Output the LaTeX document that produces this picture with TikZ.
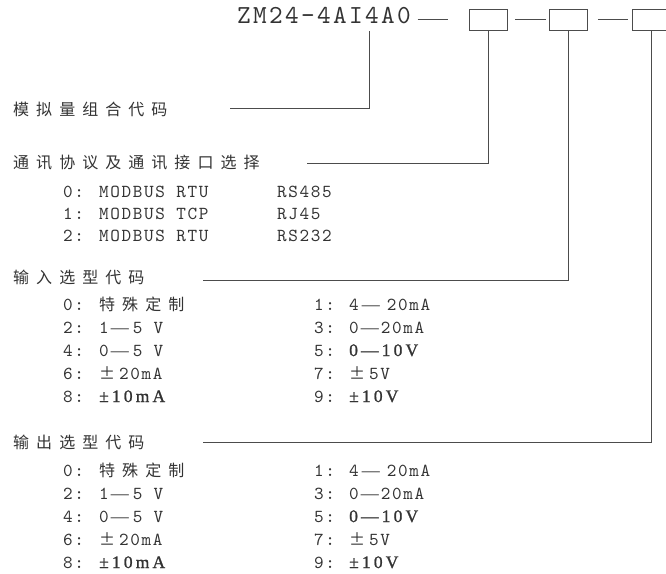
\documentclass[tikz,border=0pt]{standalone}
\usepackage{fontspec}
\setmainfont{lmmono10-regular.otf}[LetterSpace=9]
\newfontfamily\cjkfont{Noto Sans CJK SC}[LetterSpace=44]
\newfontfamily\serifb{Liberation Serif}[FakeBold=1.2,LetterSpace=18]
\newfontfamily\serifr{Liberation Serif}
\newcommand{\cn}[1]{{\cjkfont\fontsize{16}{18}\selectfont #1}}
\newcommand{\bd}[1]{{\serifb\fontsize{17.5}{18}\selectfont #1}}
\newcommand{\dash}{{\serifr\fontsize{18}{18}\selectfont —}}
\usepackage{tikz}
\usetikzlibrary{positioning}

\begin{document}
\begin{tikzpicture}[
    x=1pt, y=-1pt,
    line/.style={draw=black!70, line width=0.8pt},
    codebox/.style={draw=black!70, line width=0.8pt, minimum width=38pt,
                    minimum height=21pt, inner sep=0pt},
    head/.style={anchor=base west, inner sep=0pt, text=black!80,
                 font=\cjkfont\fontsize{16}{18}\selectfont},
    item/.style={anchor=base west, inner sep=0pt, text=black!80,
                 font=\fontsize{18.3}{20}\selectfont}
]
\useasboundingbox (0,0) rectangle (666,573);
% model code and the three option boxes
\node[anchor=base west, inner sep=0pt, text=black!80,
      font=\fontsize{26}{28}\selectfont] (title) at (237,23.3) {ZM24-4AI4A0};
\node[codebox] (b1) at (488,19.5) {};
\node[codebox] (b2) at (568.5,19.5) {};
\node[codebox] (b3) at (651,19.5) {};
\draw[line] ([xshift=-51pt]b1.west) -- ([xshift=-21pt]b1.west);
\draw[line] ([xshift=8pt]b1.east) -- ([xshift=-3pt]b2.west);
\draw[line] ([xshift=10pt]b2.east) -- ([xshift=-4pt]b3.west);
% headings
\node[head] (h1) at (13,115)   {模拟量组合代码};
\node[head] (h2) at (13,168.5) {通讯协议及通讯接口选择};
\node[head] (h3) at (13,283.5) {输入选型代码};
\node[head] (h4) at (13,448.5) {输出选型代码};
% leader lines
\coordinate (tap) at (369,31);
\coordinate (e1)  at (230,108);
\coordinate (e2)  at (307,163);
\coordinate (e3)  at (203,280);
\coordinate (e4)  at (203,442.5);
\draw[line] (tap) |- (e1);
\draw[line] (b1.south) |- (e2);
\draw[line] (b2.south) |- (e3);
\draw[line] (b3.south) |- (e4);
% protocol / interface
\node[item] (p0) at (63,197) {\makebox[36pt][l]{0:}MODBUS RTU};
\node[item] (p1) at (63,219) {\makebox[36pt][l]{1:}MODBUS TCP};
\node[item] (p2) at (63,241) {\makebox[36pt][l]{2:}MODBUS RTU};
\node[item] (i0) at (277,197) {RS485};
\node[item] (i1) at (277,219) {RJ45};
\node[item] (i2) at (277,241) {RS232};
% input types
\node[item] (a0) at (63,310)  {\makebox[36pt][l]{0:}\cn{特殊定制}};
\node[item] (a2) at (63,333)  {\makebox[36pt][l]{2:}1\kern2pt\dash\kern4pt5 V};
\node[item] (a4) at (63,356)  {\makebox[36pt][l]{4:}0\kern2pt\dash\kern4pt5 V};
\node[item] (a6) at (63,379)  {\makebox[36pt][l]{6:}\cn{±}\kern4pt20mA};
\node[item] (a8) at (63,402)  {\makebox[36pt][l]{8:}\bd{±10mA}};
\node[item] (a1) at (314,310) {\makebox[35pt][l]{1:}4\kern3pt\dash\kern7pt20mA};
\node[item] (a3) at (314,333) {\makebox[35pt][l]{3:}0\kern2pt\dash\kern2pt20mA};
\node[item] (a5) at (314,356) {\makebox[35pt][l]{5:}\bd{0—10V}};
\node[item] (a7) at (314,379) {\makebox[35pt][l]{7:}\cn{±}\kern4pt5V};
\node[item] (a9) at (314,402) {\makebox[35pt][l]{9:}\bd{±10V}};
% output types
\node[item] (o0) at (63,476)  {\makebox[36pt][l]{0:}\cn{特殊定制}};
\node[item] (o2) at (63,499)  {\makebox[36pt][l]{2:}1\kern2pt\dash\kern4pt5 V};
\node[item] (o4) at (63,522)  {\makebox[36pt][l]{4:}0\kern2pt\dash\kern4pt5 V};
\node[item] (o6) at (63,545)  {\makebox[36pt][l]{6:}\cn{±}\kern4pt20mA};
\node[item] (o8) at (63,568)  {\makebox[36pt][l]{8:}\bd{±10mA}};
\node[item] (o1) at (314,476) {\makebox[35pt][l]{1:}4\kern3pt\dash\kern7pt20mA};
\node[item] (o3) at (314,499) {\makebox[35pt][l]{3:}0\kern2pt\dash\kern2pt20mA};
\node[item] (o5) at (314,522) {\makebox[35pt][l]{5:}\bd{0—10V}};
\node[item] (o7) at (314,545) {\makebox[35pt][l]{7:}\cn{±}\kern4pt5V};
\node[item] (o9) at (314,568) {\makebox[35pt][l]{9:}\bd{±10V}};
\end{tikzpicture}
\end{document}
